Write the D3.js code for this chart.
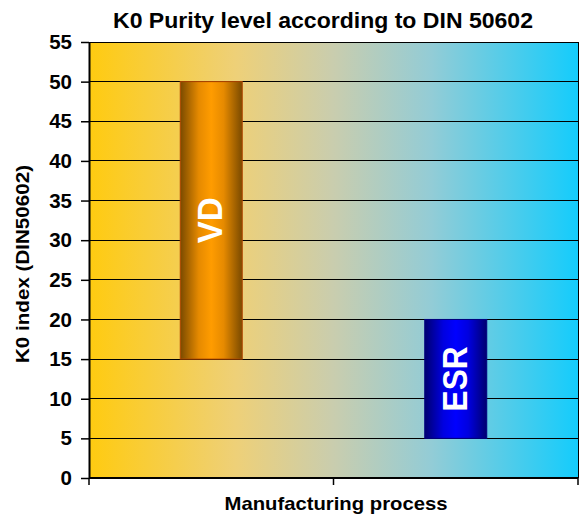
<!DOCTYPE html>
<html><head><meta charset="utf-8">
<script src="https://cdn.jsdelivr.net/npm/d3@7"></script>
<style>body{margin:0;background:#fff}svg{display:block;font-family:"Liberation Sans",Arial,sans-serif}</style>
</head><body><svg id="c" width="580" height="515"></svg>
<script>
const categories = ["VD", "ESR"];
const lowValues = [15, 5];
const highValues = [50, 20];
const yTicks = [0,5,10,15,20,25,30,35,40,45,50,55];

const svg = d3.select("#c");
const m = {l: 89, r: 578, t: 42, b: 478};
const x = d3.scaleBand().domain(categories).range([m.l, m.r]).paddingInner(0).paddingOuter(0);
const y = d3.scaleLinear().domain([0, 55]).range([m.b, m.t]);

const defs = svg.append("defs");
const bg = defs.append("linearGradient").attr("id","bg");
[[0,"#FFCB10"],[0.3,"#EED078"],[0.5,"#C9CDAE"],[0.7,"#93CCD6"],[1,"#14CCFC"]]
  .forEach(([o,c]) => bg.append("stop").attr("offset", o).attr("stop-color", c));
const g1 = defs.append("linearGradient").attr("id","gVD");
[[0,"#7A4A00"],[0.3,"#E68A00"],[0.5,"#FF9C00"],[0.7,"#E68A00"],[1,"#7A4A00"]]
  .forEach(([o,c]) => g1.append("stop").attr("offset", o).attr("stop-color", c));
const g2 = defs.append("linearGradient").attr("id","gESR");
[[0,"#000070"],[0.3,"#0000E0"],[0.5,"#0000FF"],[0.7,"#0000E0"],[1,"#000070"]]
  .forEach(([o,c]) => g2.append("stop").attr("offset", o).attr("stop-color", c));

svg.append("rect").attr("x", m.l).attr("y", m.t).attr("width", m.r - m.l).attr("height", m.b - m.t)
  .attr("fill", "url(#bg)");

// gridlines
svg.append("g").selectAll("line").data(yTicks.filter(d => d > 0)).join("line")
  .attr("x1", m.l).attr("x2", m.r).attr("y1", d => y(d)).attr("y2", d => y(d))
  .attr("stroke", "#000").attr("stroke-width", 1).attr("shape-rendering","crispEdges");
svg.append("line").attr("x1", m.r).attr("x2", m.r).attr("y1", m.t).attr("y2", m.b)
  .attr("stroke","#000").attr("shape-rendering","crispEdges");

// bars
const barW = 62;
const fills = ["url(#gVD)", "url(#gESR)"];
const strokes = ["#B34700", "#000080"];
svg.append("g").selectAll("rect").data(categories).join("rect")
  .attr("x", d => x(d) + x.bandwidth()/2 - barW/2)
  .attr("width", barW)
  .attr("y", (d,i) => y(highValues[i]))
  .attr("height", (d,i) => y(lowValues[i]) - y(highValues[i]))
  .attr("fill", (d,i) => fills[i]).attr("stroke", (d,i) => strokes[i]).attr("stroke-width", 1);

const labelLen = [46, 65];
svg.append("g").selectAll("text").data(categories).join("text")
  .attr("transform", (d,i) => `translate(${x(d) + x.bandwidth()/2 + 11},${y((highValues[i]+lowValues[i])/2)}) rotate(-90)`)
  .attr("text-anchor","middle").attr("fill","#fff").attr("font-weight","bold").attr("font-size", 35)
  .attr("textLength", (d,i) => labelLen[i]).attr("lengthAdjust","spacingAndGlyphs")
  .text(d => d);

// axes
const yAxis = svg.append("g").attr("transform", `translate(${m.l},0)`)
  .call(d3.axisLeft(y).tickValues(yTicks).tickSize(8).tickSizeOuter(0).tickPadding(9));
yAxis.select(".domain").attr("stroke","#000").attr("stroke-width",2);
yAxis.selectAll(".tick line").attr("stroke-width",1.5);
yAxis.selectAll("text").attr("font-size", 20.5).attr("font-weight","bold").attr("font-family","Liberation Sans, Arial, sans-serif").attr("fill","#000");

const xAxis = svg.append("g").attr("transform", `translate(0,${m.b})`);
xAxis.append("line").attr("x1", m.l).attr("x2", m.r).attr("stroke","#000").attr("stroke-width",2);
const xTickPos = [m.l, ...categories.slice(1).map(c => x(c)), m.r];
xAxis.selectAll("line.t").data(xTickPos).join("line").attr("class","t")
  .attr("x1", d => d).attr("x2", d => d).attr("y1", 0).attr("y2", 7).attr("stroke","#000").attr("stroke-width",1.5);

svg.append("text").attr("x", 323).attr("y", 28).attr("text-anchor","middle")
  .attr("font-weight","bold").attr("font-size", 22).attr("textLength", 420).attr("lengthAdjust","spacingAndGlyphs")
  .text("K0 Purity level according to DIN 50602");
svg.append("text").attr("x", 336).attr("y", 510).attr("text-anchor","middle")
  .attr("font-weight","bold").attr("font-size", 19).attr("textLength", 223).attr("lengthAdjust","spacingAndGlyphs")
  .text("Manufacturing process");
svg.append("text").attr("transform", "translate(28.5,264) rotate(-90)").attr("text-anchor","middle")
  .attr("font-weight","bold").attr("font-size", 19).attr("textLength", 198).attr("lengthAdjust","spacingAndGlyphs")
  .text("K0 index (DIN50602)");
</script></body></html>
